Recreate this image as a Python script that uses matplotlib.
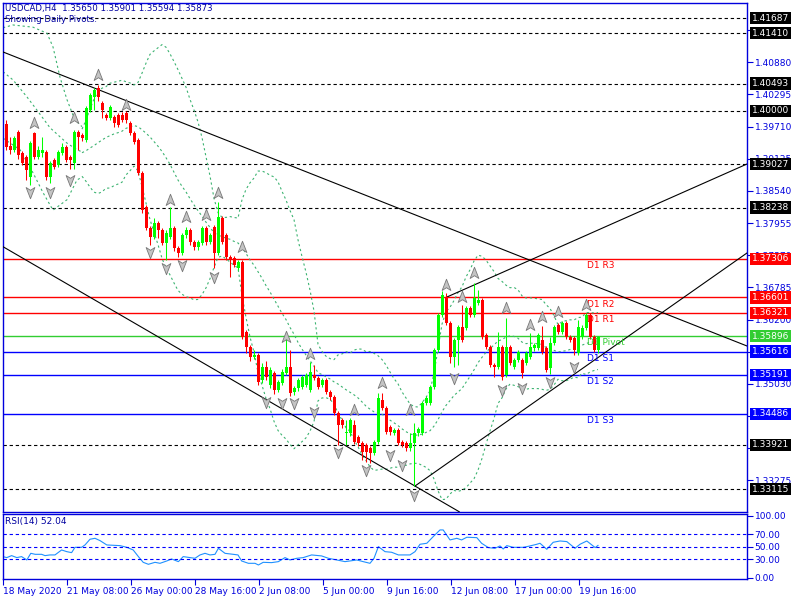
import matplotlib.pyplot as plt
import matplotlib.transforms as mtransforms
from matplotlib.path import Path
import numpy as np
import pandas as pd

# Data (USDCAD H4)
opens = [1.3976, 1.3936, 1.3929, 1.3961, 1.3923, 1.3916, 1.3880, 1.3960, 1.3916, 1.3923,
         1.3925, 1.3879, 1.3910, 1.3901, 1.3923, 1.3934, 1.3916, 1.3905, 1.3962, 1.3956,
         1.3947, 1.4002, 1.4025, 1.4041, 1.4014, 1.3992, 1.3987, 1.3989, 1.3992, 1.3992,
         1.3996, 1.3978, 1.3960, 1.3947, 1.3887, 1.3825, 1.3787, 1.3771, 1.3796, 1.3783,
         1.3760, 1.3771, 1.3787, 1.3750, 1.3741, 1.3774, 1.3783, 1.3761, 1.3752, 1.3759,
         1.3787, 1.3761, 1.3789, 1.3741, 1.3805, 1.3774, 1.3734, 1.3732, 1.3714, 1.3725,
         1.3598, 1.3570, 1.3552, 1.3556, 1.3510, 1.3534, 1.3501, 1.3523, 1.3492, 1.3505,
         1.3523, 1.3534, 1.3488, 1.3495, 1.3497, 1.3501, 1.3492, 1.3519, 1.3514, 1.3501,
         1.3510, 1.3488, 1.3479, 1.3450, 1.3437, 1.3413, 1.3413, 1.3428, 1.3406, 1.3395,
         1.3392, 1.3386, 1.3377, 1.3397, 1.3474, 1.3459, 1.3424, 1.3413, 1.3419, 1.3397,
         1.3395, 1.3386, 1.3395, 1.3413, 1.3413, 1.3468, 1.3468, 1.3497, 1.3565, 1.3628,
         1.3661, 1.3614, 1.3552, 1.3583, 1.3606, 1.3605, 1.3641, 1.3628, 1.3650, 1.3656,
         1.3592, 1.3570, 1.3537, 1.3534, 1.3570, 1.3519, 1.3570, 1.3534, 1.3546, 1.3546,
         1.3541, 1.3552, 1.3568, 1.3568, 1.3583, 1.3568, 1.3532, 1.3577, 1.3610, 1.3597,
         1.3614, 1.3588, 1.3586, 1.3559, 1.3588, 1.3605, 1.3628, 1.3588, 1.35650]
highs = [1.3983, 1.3952, 1.3954, 1.3965, 1.3927, 1.3919, 1.3945, 1.3962, 1.3936, 1.3952,
         1.3929, 1.3908, 1.3914, 1.3929, 1.3941, 1.3938, 1.3920, 1.3965, 1.3965, 1.3960,
         1.4009, 1.4033, 1.4042, 1.4047, 1.4018, 1.3996, 1.4011, 1.3992, 1.3996, 1.3998,
         1.3999, 1.3982, 1.3963, 1.3951, 1.3890, 1.3829, 1.3791, 1.3805, 1.3800, 1.3787,
         1.3782, 1.3825, 1.3791, 1.3754, 1.3778, 1.3789, 1.3787, 1.3765, 1.3765, 1.3791,
         1.3791, 1.3778, 1.3792, 1.3833, 1.3809, 1.3778, 1.3738, 1.3736, 1.3729, 1.3729,
         1.3601, 1.3574, 1.3565, 1.3559, 1.3541, 1.3545, 1.3534, 1.3527, 1.3510, 1.3530,
         1.3588, 1.3565, 1.3499, 1.3514, 1.3519, 1.3523, 1.3543, 1.3537, 1.3517, 1.3514,
         1.3514, 1.3492, 1.3483, 1.3454, 1.3441, 1.3437, 1.3441, 1.3437, 1.3410, 1.3399,
         1.3395, 1.3390, 1.3401, 1.3486, 1.3486, 1.3463, 1.3428, 1.3423, 1.3423, 1.3401,
         1.3399, 1.3413, 1.3432, 1.3424, 1.3472, 1.3481, 1.3501, 1.3568, 1.3632, 1.3672,
         1.3668, 1.3617, 1.3587, 1.3610, 1.3646, 1.3645, 1.3645, 1.3686, 1.3674, 1.3659,
         1.3596, 1.3574, 1.3541, 1.3598, 1.3574, 1.3623, 1.3574, 1.3550, 1.3565, 1.3550,
         1.3563, 1.3596, 1.3578, 1.3596, 1.3608, 1.3572, 1.3588, 1.3610, 1.3614, 1.3617,
         1.3617, 1.3592, 1.3590, 1.3619, 1.3610, 1.3632, 1.3632, 1.3592, 1.35901]
lows = [1.3929, 1.3921, 1.3925, 1.3912, 1.3901, 1.3874, 1.3865, 1.3912, 1.3912, 1.3916,
        1.3874, 1.3868, 1.3894, 1.3898, 1.3920, 1.3907, 1.3893, 1.3893, 1.3929, 1.3945,
        1.3943, 1.3998, 1.4002, 1.4018, 1.3987, 1.3983, 1.3983, 1.3971, 1.3971, 1.3980,
        1.3978, 1.3956, 1.3940, 1.3883, 1.3814, 1.3782, 1.3756, 1.3767, 1.3769, 1.3756,
        1.3729, 1.3767, 1.3745, 1.3734, 1.3738, 1.3769, 1.3756, 1.3747, 1.3747, 1.3756,
        1.3756, 1.3758, 1.3714, 1.3738, 1.3758, 1.3729, 1.3698, 1.3716, 1.3711, 1.3584,
        1.3559, 1.3545, 1.3548, 1.3500, 1.3505, 1.3510, 1.3496, 1.3485, 1.3488, 1.3501,
        1.3519, 1.3481, 1.3483, 1.3490, 1.3494, 1.3497, 1.3488, 1.3510, 1.3494, 1.3497,
        1.3485, 1.3474, 1.3446, 1.3392, 1.3423, 1.3392, 1.3408, 1.3394, 1.3390, 1.3364,
        1.3361, 1.3359, 1.3373, 1.3394, 1.3455, 1.3412, 1.3410, 1.3410, 1.3392, 1.3388,
        1.3381, 1.3381, 1.3317, 1.3408, 1.3410, 1.3464, 1.3464, 1.3494, 1.3561, 1.3625,
        1.3610, 1.3541, 1.3534, 1.3537, 1.3579, 1.3601, 1.3624, 1.3624, 1.3646, 1.3585,
        1.3566, 1.3534, 1.3515, 1.3530, 1.3510, 1.3515, 1.3537, 1.3530, 1.3543, 1.3514,
        1.3537, 1.3548, 1.3563, 1.3565, 1.3557, 1.3525, 1.3521, 1.3574, 1.3594, 1.3594,
        1.3585, 1.3579, 1.3555, 1.3555, 1.3585, 1.3601, 1.3585, 1.3561, 1.35594]
closes = [1.3934, 1.3929, 1.3950, 1.3919, 1.3905, 1.3892, 1.3941, 1.3916, 1.3929, 1.3929,
          1.3879, 1.3905, 1.3898, 1.3925, 1.3934, 1.3910, 1.3910, 1.3962, 1.3953, 1.3951,
          1.4005, 1.4029, 1.4038, 1.4025, 1.4001, 1.3987, 1.4007, 1.3978, 1.3974, 1.3983,
          1.3983, 1.3960, 1.3943, 1.3887, 1.3820, 1.3787, 1.3771, 1.3796, 1.3783, 1.3760,
          1.3778, 1.3787, 1.3750, 1.3741, 1.3774, 1.3783, 1.3761, 1.3752, 1.3761, 1.3787,
          1.3761, 1.3774, 1.3741, 1.3807, 1.3761, 1.3734, 1.3729, 1.3720, 1.3725, 1.3588,
          1.3570, 1.3552, 1.3556, 1.3507, 1.3534, 1.3516, 1.3528, 1.3492, 1.3506, 1.3525,
          1.3534, 1.3487, 1.3495, 1.3510, 1.3515, 1.3519, 1.3525, 1.3514, 1.3497, 1.3510,
          1.3488, 1.3479, 1.3450, 1.3428, 1.3428, 1.3415, 1.3437, 1.3397, 1.3395, 1.3379,
          1.3379, 1.3377, 1.3397, 1.3477, 1.3459, 1.3415, 1.3415, 1.3419, 1.3395, 1.3392,
          1.3386, 1.3395, 1.3413, 1.3420, 1.3468, 1.3477, 1.3497, 1.3565, 1.3628, 1.3665,
          1.3614, 1.3552, 1.3583, 1.3606, 1.3583, 1.3641, 1.3628, 1.3659, 1.3656, 1.3588,
          1.3570, 1.3537, 1.3534, 1.3570, 1.3515, 1.3570, 1.3541, 1.3546, 1.3561, 1.3523,
          1.3559, 1.3570, 1.3574, 1.3592, 1.3561, 1.3528, 1.3577, 1.3606, 1.3597, 1.3614,
          1.3588, 1.3583, 1.3565, 1.3606, 1.3605, 1.3628, 1.3588, 1.3565, 1.35873]

# Bollinger band lines before 20 bars of history exist (bar, price)
lead_bar_up = [-0.75, 1.75, 6.75, 10.25, 11.75, 13.5, 15.25, 16.75, 18, 19]
lead_up = [1.4151, 1.4156, 1.4152, 1.4141, 1.4116, 1.4061, 1.4020, 1.3992, 1.3978, 1.3971]
lead_bar_mid = [-0.75, 1.75, 5.25, 7.75, 11, 15.25, 17.75, 19]
lead_mid = [1.4071, 1.4056, 1.4025, 1.4001, 1.3969, 1.3941, 1.3929, 1.3925]
lead_bar_lo = [-0.75, 3.5, 6.75, 9.25, 11.75, 15.25, 17.75, 19]
lead_lo = [1.3950, 1.3929, 1.3887, 1.3851, 1.3819, 1.3838, 1.3874, 1.3879]

# fractal arrows: bar index and price where the icon sits
up_frac_bar = [7, 17, 23, 30, 41, 45, 50, 53, 59, 70, 76, 87, 94, 101, 110, 114, 117, 125, 131, 134, 138, 145]
up_frac_px = [1.3978, 1.3987, 1.4065, 1.4010, 1.3838, 1.3807, 1.3810, 1.3850, 1.3752, 1.3589, 1.3557,
              1.3455, 1.3505, 1.3455, 1.3683, 1.3661, 1.3705, 1.3641, 1.3610, 1.3625, 1.3634, 1.3646]
dn_frac_bar = [6, 11, 16, 36, 40, 44, 52, 65, 69, 72, 77, 83, 90, 96, 99, 102, 112, 124, 129, 136, 142]
dn_frac_px = [1.3852, 1.3852, 1.3874, 1.3743, 1.3714, 1.3719, 1.3697, 1.3470, 1.3468, 1.3468, 1.3452,
              1.3379, 1.3346, 1.3373, 1.3355, 1.3301, 1.3514, 1.3492, 1.3495, 1.3506, 1.3534]

# horizontal levels
dashed_levels = [1.41687, 1.41410, 1.40493, 1.40000, 1.39027, 1.38238, 1.33921, 1.33115]
pivot_names = ["D1 R3", "D1 R2", "D1 R1", "D1 Pivot", "D1 S1", "D1 S2", "D1 S3"]
pivot_levels = [1.37306, 1.36601, 1.36321, 1.35896, 1.35616, 1.35191, 1.34486]

# trend lines: (bar, price) anchors
trend_lines = [((-0.75, 1.41069), (185.25, 1.35718)),
               ((-0.75, 1.37525), (113.3, 1.32702)),
               ((110.25, 1.36610), (185.25, 1.39030)),
               ((102.25, 1.33170), (185.25, 1.37411))]

price_ticks = [1.41465, 1.40880, 1.40295, 1.39710, 1.39125, 1.38540, 1.37955, 1.37370,
               1.36785, 1.36200, 1.35615, 1.35030, 1.34445, 1.33860, 1.33275]
covered_ticks = [1.41465, 1.35615, 1.34445, 1.33860]   # labels hidden under the level boxes

# RSI(14)
rsi_bar = [-0.8, 0.2, 1.4, 2.7, 3.9, 5.2, 6.2, 7.3, 8.9, 9.75, 11, 12.25, 13.9, 15.2, 16.4, 17.25,
           18.9, 19.75, 21, 22.25, 23.5, 25.2, 28.5, 30.2, 31.8, 33.1, 34.3, 35.6, 37.25, 38.5,
           40.2, 41.4, 43.1, 44.3, 46, 47.25, 48.5, 49.75, 51, 52.25, 53.1, 54.75, 56.8, 58,
           58.9, 60.6, 62.25, 63.1, 64.3, 66.4, 68.1, 69.75, 71, 72.7, 74.3, 76.4, 78.9, 80.6,
           82.7, 84.75, 86, 87.7, 89.3, 91, 92, 93.1, 94.75, 96.4, 98.1, 101, 102.25, 103.5,
           105.2, 106.8, 108.5, 109.3, 111, 112.7, 113.9, 115.2, 117.7, 118.9, 120.6, 122.25,
           123.5, 124.3, 125.2, 126.8, 129.3, 130.6, 132.7, 133.5, 135.2, 136.8, 138.5, 140.2,
           142.25, 143.5, 145.2, 147.3, 148]
rsi_val = [34.0, 32.4, 35.6, 32.4, 34.0, 28.6, 39.3, 37.7, 37.7, 35.6, 36.7, 36.7, 44.7, 42.0,
           40.4, 49.0, 49.0, 52.8, 62.0, 63.5, 59.8, 52.8, 51.7, 49.0, 44.7, 34.0, 24.8, 21.6,
           24.8, 23.2, 27.0, 30.2, 25.9, 34.0, 32.4, 31.3, 36.7, 39.3, 36.7, 37.7, 47.4, 39.3,
           37.7, 36.7, 27.0, 23.2, 23.2, 20.5, 24.8, 24.3, 25.9, 32.4, 28.6, 31.3, 32.4, 36.7,
           35.1, 31.3, 28.6, 25.9, 27.0, 28.6, 25.9, 23.2, 31.3, 50.1, 42.0, 41.0, 36.7, 36.7,
           42.0, 53.9, 55.5, 66.2, 77.0, 77.0, 60.9, 63.5, 60.9, 65.2, 64.6, 55.5, 48.5, 47.4,
           51.2, 46.3, 51.7, 49.0, 49.0, 50.6, 53.9, 55.5, 45.8, 57.1, 59.2, 58.2, 47.4, 53.9,
           59.2, 48.5, 52.04]

x_labels = ["18 May 2020", "21 May 08:00", "26 May 00:00", "28 May 16:00", "2 Jun 08:00",
            "5 Jun 00:00", "9 Jun 16:00", "12 Jun 08:00", "17 Jun 00:00", "19 Jun 16:00"]

BLUE = "#0000dd"
FS = 6.5
BB_COLOR = "#3cb371"
BB_STYLE = (0, (2, 2.5))
plt.rcParams["font.family"] = "DejaVu Sans"

fig = plt.figure(figsize=(8, 6), dpi=100)
ax = fig.add_axes([3 / 800, 1 - 512 / 600, 744 / 800, 509 / 600])
axr = fig.add_axes([3 / 800, 1 - 579 / 600, 744 / 800, 65 / 600])

o = np.array(opens); h = np.array(highs); l = np.array(lows); c = np.array(closes)
idx = np.arange(len(c))
up = c >= o
cols = np.where(up, "#00ff00", "#ff0000")

# Bollinger bands (20, 2) on the closes
s = pd.Series(c)
mid = s.rolling(20).mean()
sd = s.rolling(20).std(ddof=0)
for band in (mid + 2 * sd, mid, mid - 2 * sd):
    ax.plot(idx, band, color=BB_COLOR, lw=0.8, ls=BB_STYLE, zorder=2)
for bx, by in ((lead_bar_up, lead_up), (lead_bar_mid, lead_mid), (lead_bar_lo, lead_lo)):
    ax.plot(bx, by, color=BB_COLOR, lw=0.8, ls=BB_STYLE, zorder=2)

# levels
for lv in dashed_levels:
    ax.axhline(lv, color="black", lw=0.8, ls=(0, (3, 2.5)), zorder=1)
piv_cols = ["#ff0000"] * 3 + ["#32cd32"] + ["#0000ff"] * 3
for name, lv, pc in zip(pivot_names, pivot_levels, piv_cols):
    ax.axhline(lv, color=pc, lw=1.0, zorder=1)
    ax.annotate(name, xy=(0.785, lv), xycoords=("axes fraction", "data"), xytext=(0, -1.5),
                textcoords="offset points", color=pc, fontsize=FS, va="top", ha="left", zorder=6)

for (x0, y0), (x1, y1) in trend_lines:
    ax.plot([x0, x1], [y0, y1], color="black", lw=0.8, zorder=3)

# candles
ax.vlines(idx, l, h, colors=cols, lw=0.75, zorder=4)
body = np.maximum(np.abs(c - o), 0.00005)
ax.bar(idx, body, bottom=np.minimum(o, c), width=0.75, color=cols, linewidth=0, zorder=5)

# fractal arrows
up_marker = Path([(0, 1), (0.7, -0.8), (0, -0.35), (-0.7, -0.8), (0, 1)],
                 [Path.MOVETO, Path.LINETO, Path.LINETO, Path.LINETO, Path.CLOSEPOLY])
dn_marker = Path([(0, -1), (0.7, 0.8), (0, 0.35), (-0.7, 0.8), (0, -1)],
                 [Path.MOVETO, Path.LINETO, Path.LINETO, Path.LINETO, Path.CLOSEPOLY])
ax.plot(up_frac_bar, up_frac_px, ls="none", marker=up_marker, ms=9, mfc="#c4c4c4", mec="#777777",
        mew=0.6, zorder=6)
ax.plot(dn_frac_bar, dn_frac_px, ls="none", marker=dn_marker, ms=9, mfc="#c4c4c4", mec="#777777",
        mew=0.6, zorder=6)

ax.set_xlim(-0.75, 185.25)
ax.set_ylim(1.32697, 1.41960)
ax.set_xticks([])
ax.yaxis.tick_right()
ax.set_yticks(price_ticks)
ax.set_yticklabels(["" if t in covered_ticks else "%.5f" % t for t in price_ticks])
ax.tick_params(axis="y", colors=BLUE, labelsize=FS, length=4, width=0.8, pad=1.5)

# price boxes on the right scale
trans = mtransforms.blended_transform_factory(ax.transAxes, ax.transData)
box_items = [(lv, "black") for lv in dashed_levels] + list(zip(pivot_levels, piv_cols))
for lv, bc in box_items:
    ax.text(1 + 5 / 744, lv, "%.5f" % lv, transform=trans, ha="left", va="center", fontsize=FS,
            color="white", clip_on=False, zorder=10,
            bbox=dict(boxstyle="square,pad=0.18", fc=bc, ec="none"))

# RSI panel
axr.plot(rsi_bar, rsi_val, color="#1e90ff", lw=0.8)
for lv in (30, 50, 70):
    axr.axhline(lv, color="#0000ff", lw=0.8, ls=(0, (3, 2.5)))
axr.set_xlim(-0.75, 185.25)
axr.set_ylim(-2.1, 102.7)
axr.yaxis.tick_right()
axr.set_yticks([0, 30, 50, 70, 100])
axr.set_yticklabels(["0.00", "30.00", "50.00", "70.00", "100.00"])
axr.set_xticks(np.arange(len(x_labels)) * 16 - 0.75)
axr.set_xticklabels(x_labels, ha="left")
axr.tick_params(colors=BLUE, labelsize=FS, length=4, width=0.8, pad=1.5)
axr.text(0.003, 0.88, "RSI(14) 52.04", transform=axr.transAxes, color="#0000a0", fontsize=FS,
         va="center", ha="left")

for a in (ax, axr):
    for sp in a.spines.values():
        sp.set_color(BLUE)
        sp.set_linewidth(1.0)

fig.text(5 / 800, 1 - 8 / 600, "USDCAD,H4  1.35650 1.35901 1.35594 1.35873", color="#0000a0",
         fontsize=6.2, va="center", ha="left")
fig.text(5 / 800, 1 - 20 / 600, "Showing Daily Pivots.", color="#0000a0", fontsize=6.2,
         va="center", ha="left")

fig.savefig("out.png", dpi=100, facecolor="white")
